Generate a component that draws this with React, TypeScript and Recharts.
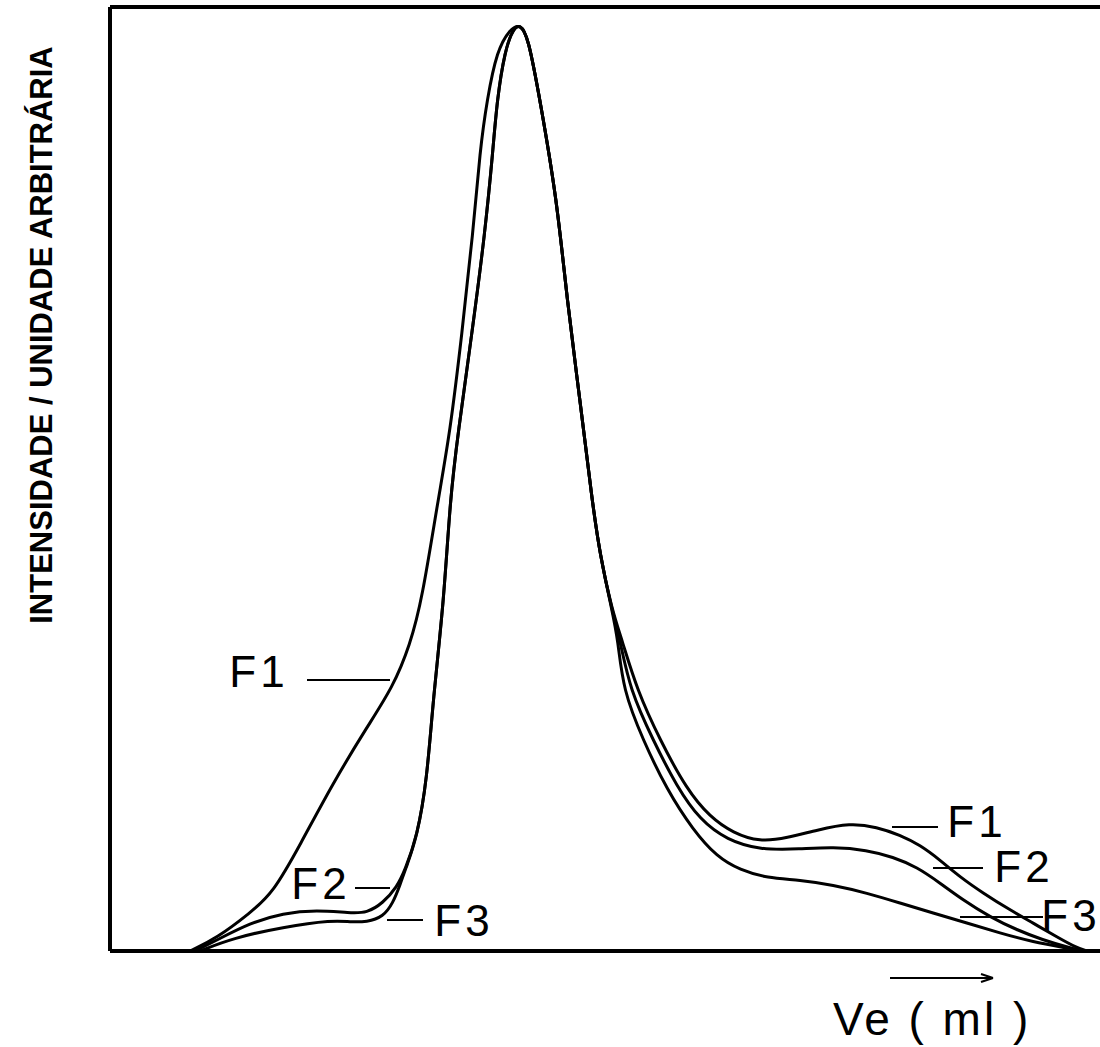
import React from "react";
import {
  LineChart,
  Line,
  XAxis,
  YAxis,
  ReferenceLine,
  ReferenceDot
} from "recharts";

interface IPoint {
  x: number
  y: number
}

// elution volume (arbitrary units) vs intensity (arbitrary units)
const f1Points: IPoint[] = [
  { x: 80, y: 0 }, { x: 107, y: 13 }, { x: 140, y: 38 }, { x: 163, y: 58 },
  { x: 190, y: 106 }, { x: 223, y: 168 }, { x: 257, y: 224 }, { x: 283, y: 264 },
  { x: 300, y: 306 }, { x: 312, y: 351 }, { x: 328, y: 451 }, { x: 340, y: 518 },
  { x: 352, y: 618 }, { x: 363, y: 718 }, { x: 370, y: 801 }, { x: 377, y: 851 },
  { x: 387, y: 901 }, { x: 400, y: 922 }, { x: 410, y: 927 }, { x: 418, y: 915 },
  { x: 430, y: 851 }, { x: 447, y: 751 }, { x: 457, y: 651 }, { x: 470, y: 551 },
  { x: 482, y: 451 }, { x: 490, y: 396 }, { x: 502, y: 341 }, { x: 512, y: 311 },
  { x: 527, y: 261 }, { x: 550, y: 211 }, { x: 577, y: 161 }, { x: 600, y: 134 },
  { x: 623, y: 118 }, { x: 650, y: 109 }, { x: 677, y: 113 }, { x: 707, y: 121 },
  { x: 740, y: 128 }, { x: 767, y: 124 }, { x: 790, y: 116 }, { x: 810, y: 106 },
  { x: 830, y: 91 }, { x: 850, y: 74 }, { x: 873, y: 58 }, { x: 900, y: 41 },
  { x: 923, y: 28 }, { x: 947, y: 14 }, { x: 967, y: 3 }, { x: 977, y: 0 }
];

const f2Points: IPoint[] = [
  { x: 85, y: 0 }, { x: 107, y: 11 }, { x: 140, y: 28 }, { x: 173, y: 38 },
  { x: 207, y: 41 }, { x: 240, y: 38 }, { x: 257, y: 38 }, { x: 273, y: 48 },
  { x: 287, y: 64 }, { x: 295, y: 81 }, { x: 307, y: 114 }, { x: 317, y: 171 },
  { x: 323, y: 251 }, { x: 334, y: 351 }, { x: 340, y: 451 }, { x: 348, y: 518 },
  { x: 362, y: 618 }, { x: 375, y: 718 }, { x: 383, y: 801 }, { x: 387, y: 851 },
  { x: 395, y: 901 }, { x: 403, y: 922 }, { x: 410, y: 927 }, { x: 418, y: 915 },
  { x: 430, y: 851 }, { x: 447, y: 751 }, { x: 457, y: 651 }, { x: 470, y: 551 },
  { x: 482, y: 451 }, { x: 490, y: 396 }, { x: 502, y: 341 }, { x: 510, y: 311 },
  { x: 520, y: 261 }, { x: 543, y: 211 }, { x: 567, y: 164 }, { x: 590, y: 131 },
  { x: 617, y: 111 }, { x: 650, y: 101 }, { x: 690, y: 102 }, { x: 723, y: 104 },
  { x: 757, y: 101 }, { x: 783, y: 94 }, { x: 807, y: 84 }, { x: 830, y: 68 },
  { x: 853, y: 51 }, { x: 880, y: 34 }, { x: 907, y: 21 }, { x: 933, y: 11 },
  { x: 957, y: 4 }, { x: 973, y: 0 }
];

const f3Points: IPoint[] = [
  { x: 90, y: 0 }, { x: 123, y: 13 }, { x: 173, y: 24 }, { x: 223, y: 31 },
  { x: 240, y: 29 }, { x: 257, y: 29 }, { x: 273, y: 34 }, { x: 283, y: 48 },
  { x: 290, y: 66 }, { x: 297, y: 86 }, { x: 307, y: 114 }, { x: 317, y: 171 },
  { x: 323, y: 251 }, { x: 334, y: 351 }, { x: 340, y: 451 }, { x: 348, y: 518 },
  { x: 362, y: 618 }, { x: 375, y: 718 }, { x: 383, y: 801 }, { x: 387, y: 851 },
  { x: 395, y: 901 }, { x: 403, y: 922 }, { x: 410, y: 927 }, { x: 418, y: 915 },
  { x: 430, y: 851 }, { x: 447, y: 751 }, { x: 457, y: 651 }, { x: 470, y: 551 },
  { x: 482, y: 451 }, { x: 490, y: 396 }, { x: 502, y: 341 }, { x: 508, y: 311 },
  { x: 513, y: 261 }, { x: 533, y: 211 }, { x: 557, y: 161 }, { x: 583, y: 121 },
  { x: 607, y: 94 }, { x: 630, y: 81 }, { x: 657, y: 73 }, { x: 690, y: 71 },
  { x: 723, y: 66 }, { x: 757, y: 58 }, { x: 790, y: 48 }, { x: 823, y: 38 },
  { x: 857, y: 28 }, { x: 890, y: 18 }, { x: 923, y: 9 }, { x: 957, y: 3 },
  { x: 973, y: 0 }
];

const seriesList = [
  { name: "F1", points: f1Points },
  { name: "F2", points: f2Points },
  { name: "F3", points: f3Points }
];

// curve tags: text position and the short leader line to the curve
const tags = [
  { text: "F1", x: 149, y: 280, from: 197, to: 280, lineY: 271 },
  { text: "F2", x: 211, y: 68, from: 245, to: 280, lineY: 63 },
  { text: "F3", x: 354, y: 31, from: 277, to: 313, lineY: 31 },
  { text: "F1", x: 867, y: 130, from: 782, to: 828, lineY: 124 },
  { text: "F2", x: 914, y: 85, from: 823, to: 873, lineY: 83 },
  { text: "F3", x: 961, y: 36, from: 850, to: 933, lineY: 34 }
];

const xDomain = [0, 990];
const yDomain = [0, 944];
const yTitle = "INTENSIDADE / UNIDADE ARBITRÁRIA";
const xTitle = "Ve ( ml )";
const arrow = { from: 780, to: 883, y: -27 };

const YTitle = (props: any) => {
  const vb = props.viewBox || { x: 0, y: 7 };
  const cx = vb.x + 41;
  const cy = vb.y + 328;
  return (
    <text x={cx} y={cy} transform={`rotate(-90, ${cx}, ${cy})`} textAnchor="middle"
      dominantBaseline="central" fontFamily="Liberation Sans" fontWeight="bold"
      fontSize={31} fill="#000">
      {yTitle}
    </text>
  );
};

const XTitle = (props: any) => {
  const vb = props.viewBox || { x: 110, y: 951 };
  return (
    <text x={vb.x + 723} y={vb.y + 84} fontFamily="Liberation Sans" fontSize={46}
      letterSpacing={3} fill="#000">
      {xTitle}
    </text>
  );
};

const App = () => {
  return (
    <div style={{ position: "absolute", left: 0, top: 0, width: 1100, height: 1047, background: "#fff" }}>
      <LineChart width={1100} height={1047} margin={{ top: 7, right: 0, bottom: 0, left: 0 }}>
        <XAxis type="number" dataKey="x" domain={xDomain} allowDataOverflow height={96}
          tick={false} tickLine={false} axisLine={{ stroke: "#000", strokeWidth: 4 }}
          label={{ content: XTitle }} />
        <YAxis type="number" domain={yDomain} allowDataOverflow width={110}
          tick={false} tickLine={false} axisLine={{ stroke: "#000", strokeWidth: 4 }}
          label={{ content: YTitle }} />
        <ReferenceLine y={yDomain[1]} stroke="#000" strokeWidth={4} />
        {seriesList.map((s) => (
          <Line key={s.name} data={s.points} dataKey="y" type="basis" stroke="#000"
            strokeWidth={3} dot={false} isAnimationActive={false} />
        ))}
        {tags.map((t, i) => (
          <ReferenceLine key={"l" + i} segment={[{ x: t.from, y: t.lineY }, { x: t.to, y: t.lineY }]}
            stroke="#000" strokeWidth={2} />
        ))}
        {tags.map((t, i) => (
          <ReferenceDot key={"d" + i} x={t.x} y={t.y} r={0} stroke="none" fill="none"
            label={{ value: t.text, position: "center", fontSize: 44, fill: "#000",
              fontFamily: "Liberation Sans", letterSpacing: 4 }} />
        ))}
        <ReferenceLine segment={[{ x: arrow.from, y: arrow.y }, { x: arrow.to, y: arrow.y }]}
          stroke="#000" strokeWidth={2} ifOverflow="visible" />
        <ReferenceLine segment={[{ x: arrow.to - 12, y: arrow.y + 4 }, { x: arrow.to, y: arrow.y }]}
          stroke="#000" strokeWidth={2} ifOverflow="visible" />
        <ReferenceLine segment={[{ x: arrow.to - 12, y: arrow.y - 4 }, { x: arrow.to, y: arrow.y }]}
          stroke="#000" strokeWidth={2} ifOverflow="visible" />
      </LineChart>
    </div>
  );
};

export default App;
